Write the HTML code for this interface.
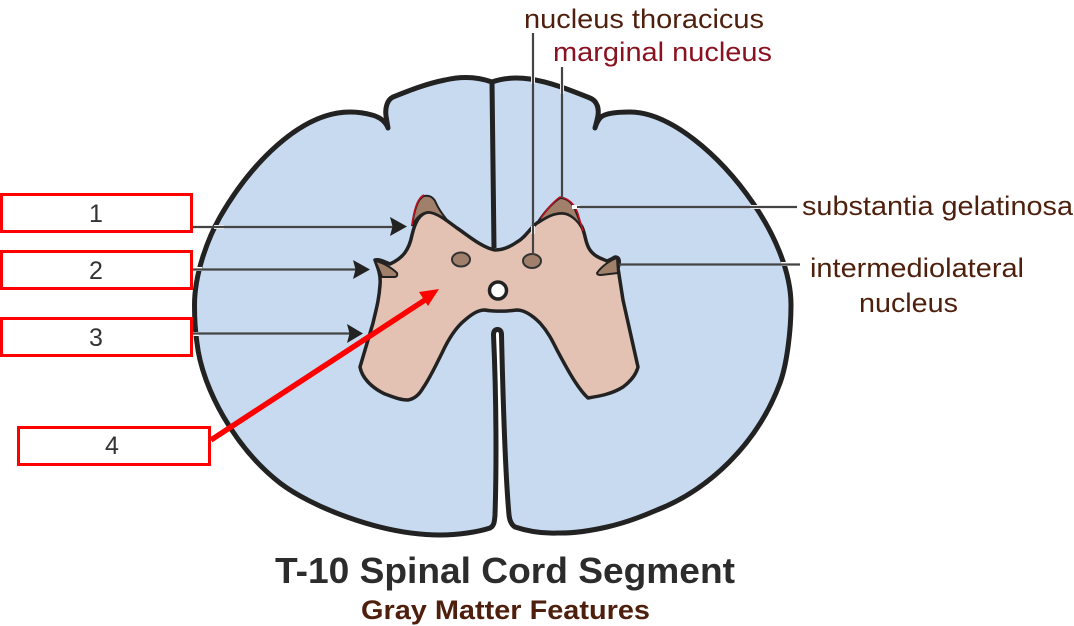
<!DOCTYPE html>
<html>
<head>
<meta charset="utf-8">
<style>
html,body{margin:0;padding:0;background:#fff;width:1074px;height:626px;overflow:hidden}
svg{display:block}
text{font-family:"Liberation Sans",sans-serif}
</style>
</head>
<body>
<svg width="1074" height="626" viewBox="0 0 1074 626" xmlns="http://www.w3.org/2000/svg">
<path d="M492 82 C478 77 462 76 445 80 C425 84 408 91 393 97 C387 100 385 108 386 116 L388 128 C386 122 380 117 372 115 C365 113 358 112 350 112 C300 112 250 165 220 217 C207 240 194.500 275 194.500 305 C194.500 318 195 330 197 343 C202 388 235 448 280 483 C310 506 380 535 440 535 C458 535 478 532 490 528 C494 526 494.500 522 495 515 C496.500 470 496.500 400 493.500 335 Q493.500 329.500 497.500 329.500 Q501.500 329.500 501.500 335 C503 400 505 470 509 515 Q510 524 515 527 C530 532 545 533.500 557 533 C573 533.500 590.300 530.800 607 527 C623.700 523.200 640.300 517.300 657 510 C708 490 757 445 780 383 C787 364 791 330 791 305 C791 270 773 232 753 203 C720 155 670 112 630 112 C618 112 606 113 601 117 Q597 121 595 128 C597 120 600 112 597 105 Q595 100 590 98 C570 90 550 82 530 79 C515 77 503 78 492 82 Z" fill="#c8daef" stroke="#222" stroke-width="5" stroke-linejoin="round"/>
<path d="M492 82 L494 248" stroke="#222" stroke-width="5" fill="none"/>
<path d="M495 250 C483 248 470 237 457 228 C447 221 437 212 428 212 C420 213 415 222 412 235 C409 250 403 258 390 264 C385 262 380 259 375 260 C378 268 381 275 380 285 C379 300 376 310 373 323 L360 367 C362 378 372 388 385 394 C393 397 400 400 408 400 C414 399 419 395 423 388 C430 378 436 365 442 353 C448 340 455 328 465 320 C472 314 478 310 485 310 C490 311 503 312 517 310 C525 310 533 316 540 323 C548 332 552 340 557 350 C565 365 577 388 588 398 C600 396 612 394 623 387 C631 381 636 375 638 367 L623 300 L618 268 C620 262 620 257 615 257 C612 259 610 260 607 261 C600 258 594 256 590 250 C585 243 586 236 582 227 C578 220 570 213 562 213 C552 213 545 218 537 223 C530 228 525 238 517 242 C510 247 502 250 495 250 Z" fill="#e4c2b3" stroke="#222" stroke-width="3.500" stroke-linejoin="round"/>
<path d="M412 226 C414 212 417 199 424 196 C430 195 434 198 436 203 C439 210 443 215 447 220 C440 216 434 212 428 212 C420 213 415 220 412 226 Z" fill="#a0806a" stroke="#222" stroke-width="2"/>
<path d="M537 223 C543 214 552 203 560 198 C567 198 573 203 576 212 C579 219 581 225 583 231 C578 220 570 213 562 213 C552 213 545 218 537 223 Z" fill="#a0806a" stroke="#222" stroke-width="2"/>
<path d="M412 225 C414 211 417 198 424 195" fill="none" stroke="#c01020" stroke-width="1.600"/>
<path d="M541 218 C548 208 554 201 560 197 C568 198 575 204 578 214 L583 231" fill="none" stroke="#c01020" stroke-width="1.600"/>
<path d="M375 261 C382 262 392 268 397 273 Q398 277 394 277 L382 277 C380 272 378 267 375 261 Z" fill="#a0806a" stroke="#222" stroke-width="2" stroke-linejoin="round"/>
<path d="M597 273 C601 267 610 260 617 258 L618 273 L601 275 Q597 275 597 273 Z" fill="#a0806a" stroke="#222" stroke-width="2" stroke-linejoin="round"/>
<ellipse cx="461" cy="259.500" rx="9" ry="7" fill="#a0806a" stroke="#333" stroke-width="2"/>
<ellipse cx="532" cy="261" rx="9" ry="7" fill="#a0806a" stroke="#333" stroke-width="2"/>
<circle cx="498" cy="290.500" r="8.500" fill="#fff" stroke="#222" stroke-width="3.500"/>
<g stroke="#fff" stroke-width="4" fill="none">
<path d="M533 226 V234"/><path d="M562 83 V94"/><path d="M533 73 V84"/>
<path d="M214 227 H224"/><path d="M194 269 H202"/><path d="M192 334 H199"/>
<path d="M750 207 H760"/><path d="M781 264 H791"/><path d="M572 207 H580"/>
</g>
<g stroke="#444" stroke-width="2.200" fill="none">
<path d="M193 227 H394"/>
<path d="M193 269.500 H358"/>
<path d="M193 333.500 H352"/>
<path d="M533 33 V255"/>
<path d="M562 67 V198"/>
<path d="M577 207 H797"/>
<path d="M619 264.500 H800"/>
</g>
<g fill="#222">
<path d="M407 226.500 L390 217 L392.500 226.500 L390 236 Z"/>
<path d="M370 269.500 L353 260 L355.500 269.500 L353 279 Z"/>
<path d="M363 333.500 L347 324 L349.500 333.500 L347 343 Z"/>
</g>
<path d="M211 440 L428 298" stroke="#f00" stroke-width="5.500" fill="none"/>
<path d="M439 289 L419 292 L428 306 Z" fill="#f00"/>
<g fill="#fff" stroke="#f00" stroke-width="3">
<rect x="1.500" y="194.500" width="190" height="37"/>
<rect x="1.500" y="251.500" width="190" height="37"/>
<rect x="1.500" y="318.500" width="190" height="37"/>
<rect x="18.500" y="427.500" width="191" height="37"/>
</g>
<g font-size="25" fill="#333" text-anchor="middle">
<text x="96" y="222">1</text>
<text x="96" y="279">2</text>
<text x="96" y="346">3</text>
<text x="112" y="454">4</text>
</g>
<g font-size="27" fill="#4e1f0c">
<text x="524" y="28" textLength="240" lengthAdjust="spacingAndGlyphs">nucleus thoracicus</text>
<text x="553" y="61" textLength="219" lengthAdjust="spacingAndGlyphs" fill="#8a1220">marginal nucleus</text>
<text x="802" y="215" textLength="271" lengthAdjust="spacingAndGlyphs">substantia gelatinosa</text>
<text x="810" y="277" textLength="214" lengthAdjust="spacingAndGlyphs">intermediolateral</text>
<text x="859" y="312" textLength="99" lengthAdjust="spacingAndGlyphs">nucleus</text>
</g>
<text x="275" y="583" font-size="36" font-weight="bold" fill="#2c2c2c" textLength="460" lengthAdjust="spacingAndGlyphs">T-10 Spinal Cord Segment</text>
<text x="361" y="619" font-size="27" font-weight="bold" fill="#4e1f0c" textLength="289" lengthAdjust="spacingAndGlyphs">Gray Matter Features</text>
</svg>
</body>
</html>
